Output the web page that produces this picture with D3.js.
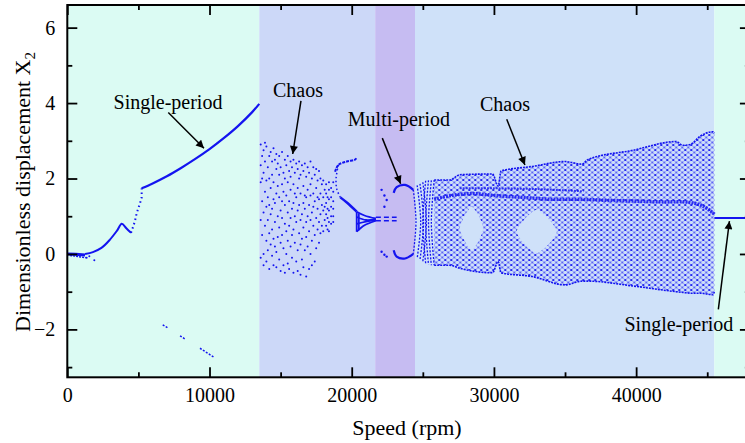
<!DOCTYPE html>
<html>
<head>
<meta charset="utf-8">
<script src="https://cdn.jsdelivr.net/npm/d3@7"></script>
<style>
    body { margin: 0; background: #fff; }
    text { font-family: "Liberation Serif", "Times New Roman", serif; }
</style>
</head>
<body>
<div id="chart"></div>
<script>
// ---- values: speed (rpm) vs dimensionless displacement X2 ----
const bandEdges = [0, 13500, 21650, 24450, 45500, 48000]
const bandKinds = ["single", "chaosA", "multi", "chaosB", "single"]

const xMajor = [0, 10000, 20000, 30000, 40000]
const xMinor = [5000, 15000, 25000, 35000, 45000]
const yMajor = [-2, 0, 2, 4, 6]
const yMinor = [-3, -1, 1, 3, 5]

// low speed branch
const nearZero = [[0, 0], [600, -0.01], [1250, -0.03]]
const nearZeroLow = [[200, -0.04], [800, -0.07], [1300, -0.1]]
const strayDots = [[1360, -0.1], [1550, -0.06], [1900, -0.17]]
const lowHump = [[1250, 0], [1800, 0.05], [2400, 0.16], [3000, 0.38], [3500, 0.62], [3830, 0.8], [4150, 0.68], [4480, 0.56]]
const jump = [[4480, 0.56], [4750, 0.86], [4880, 1.08], [5110, 1.34], [5230, 1.5], [5230, 1.74]]
const singleUpper = [[5230, 1.74], [6000, 1.87], [7000, 2.06], [8000, 2.28], [9000, 2.52], [10000, 2.78],
    [11000, 3.07], [12000, 3.39], [13000, 3.76], [13500, 3.98]]
const lowBranch = [[6710, -1.88], [7060, -1.96], null, [7930, -2.17], [8330, -2.27], null, [9330, -2.5], [10320, -2.74]]

// chaotic cloud, one column of hits per speed
const chaosSpeeds = [13600, 13700, 13800, 13900, 14000, 14100, 14200, 14300, 14400, 14500, 14600, 14700, 14800,
    14900, 15000, 15100, 15200, 15300, 15400, 15500, 15600, 15700, 15800, 15900, 16000, 16100, 16200, 16300,
    16400, 16500, 16600, 16700, 16800, 16900, 17000, 17100, 17200, 17300, 17400, 17500, 17600, 17700, 17800,
    17900, 18000, 18100, 18200, 18300, 18400, 18550, 18700]
const chaosValues = [
    [2.9, 1.9, 0.9, -0.1, 2.35], [2.6, 1.4, 0.5, 2.0], [2.75, 2.15, 1.1, 0.0, -0.3], [2.45, 1.65, 0.75, 2.95],
    [2.85, 1.25, 0.35, -0.2, 1.95], [2.3, 1.5, 0.9, 0.1], [2.6, 2.0, 0.55, -0.4, 1.3], [2.7, 1.75, 1.05, 0.25],
    [2.45, 1.2, 0.65, -0.05, 2.1], [2.8, 1.9, 1.45, 0.4, -0.3], [2.5, 1.35, 0.85, 0.2], [2.25, 1.6, 0.05, -0.35, 2.65],
    [2.4, 1.0, 0.45, 1.8], [2.6, 2.1, 1.5, 0.7, -0.15], [2.3, 1.15, 0.3, -0.45], [2.7, 1.85, 0.95, 0.5, 1.4],
    [2.15, 1.65, 0.15, -0.3], [2.5, 1.3, 0.8, -0.5, 2.0], [2.35, 1.55, 0.6, 0.0], [2.6, 1.9, 1.1, 0.35, -0.25],
    [2.2, 1.4, 0.75, -0.4], [2.45, 1.7, 0.95, 0.2, 2.05], [2.3, 1.2, 0.5, -0.1], [2.5, 1.85, 1.35, 0.65, -0.5],
    [2.15, 1.0, 0.3, 1.6], [2.4, 1.5, 0.85, -0.2], [2.25, 1.75, 1.15, 0.1, -0.45], [2.45, 1.3, 0.55, 2.0],
    [2.1, 1.6, 0.9, -0.55, 0.25], [2.35, 1.05, 0.4, -0.15], [2.2, 1.8, 1.35, 0.7, -0.35], [2.4, 1.2, 0.1, 1.55],
    [2.05, 1.5, 0.85, -0.6, 0.45], [2.3, 1.7, 1.0, 0.2], [2.15, 1.3, 0.6, -0.4], [2.45, 1.85, 0.9, 0.0, 1.55],
    [2.0, 1.1, 0.35, -0.3], [2.3, 1.6, 0.75, 1.25], [2.1, 1.4, 0.5, -0.2], [2.25, 1.75, 0.95, 0.15],
    [1.95, 1.2, 0.65, 1.5], [2.2, 1.45, 0.85, 0.3], [2.0, 1.6, 1.05, 0.55], [1.85, 1.3, 0.75],
    [1.95, 1.5, 1.15, 0.6], [1.7, 1.25, 0.9], [1.85, 1.6, 1.35, 1.05, 0.75], [1.5, 1.2, 0.95, 0.65],
    [1.9, 1.7, 1.45, 1.15, 0.85, 0.6], [1.75, 1.5, 1.25, 1.0, 0.8], [1.9, 1.65, 1.4, 1.2, 1.0, 0.85]
]

// period-doubling hook and "fish" around 19000-21700 rpm
const hookTop = [[18830, 2.18], [19060, 2.36], [19650, 2.45], [20230, 2.5], [20350, 2.55]]
const hookArc = [[19060, 2.36], [18900, 2.0], [18950, 1.72], [19200, 1.5]]
const hookTail = [[19200, 1.5], [19700, 1.35], [20350, 1.12]]
const fishLines = [
    [[20350, 1.12], [20900, 1.02], [21700, 0.94]],
    [[20350, 0.98], [21000, 0.9], [21700, 0.92]],
    [[20350, 0.8], [21000, 0.86], [21700, 0.9]],
    [[20350, 0.59], [20900, 0.76], [21700, 0.88]],
    [[20350, 0.59], [20350, 1.12]],
    [[20500, 0.63], [20500, 1.08]]
]
const fishTail = [[[21700, 0.97], [23160, 0.97]], [[21700, 0.88], [23160, 0.88]]]

// multi-period ring
const ringTop = [[22950, 1.62], [23160, 1.77], [23750, 1.83], [24330, 1.7]]
const ringBottom = [[22950, 0.1], [23160, -0.07], [23750, -0.12], [24330, 0.0]]
const ringDots = [[22100, 1.7], [22300, 1.55], [22460, 1.43], [22300, 1.25], [22100, 0.06], [22300, -0.02], [22460, -0.07]]
const ringArcs = [
    [[24330, 1.7], [24520, 0.85], [24330, 0.0]],
    [[24600, 1.82], [24850, 0.85], [24600, -0.12]],
    [[24800, 1.86], [25050, 0.85], [24800, -0.16]],
    [[25000, 1.9], [25250, 0.85], [25000, -0.2]],
    [[25200, 1.94], [25000, 0.85], [25200, -0.25]],
    [[25400, 1.95], [25200, 0.85], [25400, -0.28]],
    [[25600, 1.95], [25400, 0.85], [25600, -0.3]],
    [[25800, 1.96], [25600, 0.85], [25800, -0.3]]
]

// quasi-periodic mesh envelope 25800-45500 rpm
const meshSpeeds = [25800, 26900, 27600, 29900, 30300, 30500, 32700, 35000, 36200, 36600, 39800, 42800, 43300, 43800, 44500, 45400, 45500]
const meshTop = [1.96, 1.96, 2.1, 2.12, 1.8, 2.2, 2.32, 2.45, 2.38, 2.5, 2.75, 2.98, 2.88, 2.9, 3.12, 3.24, 3.2]
const meshBottom = [-0.3, -0.3, -0.38, -0.5, -0.2, -0.5, -0.6, -0.82, -0.72, -0.72, -0.85, -1.0, -1.02, -1.04, -1.04, -1.08, -1.0]
const holeA = [[27600, 0.68], [28440, 1.25], [29250, 0.68], [28440, 0.1]]
const holeB = [[31600, 0.59], [33000, 1.17], [34420, 0.59], [33000, 0.02]]
const bandMid = [[25800, 1.45], [27000, 1.55], [28500, 1.6], [30000, 1.55], [32000, 1.5], [34000, 1.45], [36000, 1.45],
    [38000, 1.42], [40000, 1.4], [42000, 1.38], [43500, 1.38], [44500, 1.3], [45200, 1.15], [45500, 1.05]]
const bandUpper = [[27600, 1.74], [30000, 1.74], [33000, 1.72], [36300, 1.66]]
const singleHigh = [[45500, 0.95], [48000, 0.95]]

// annotations: [label, text x, text y, arrow tail x, tail y, head x, head y] in data units
const notes = [
    ["Single-period", 7080, 3.84, 7100, 3.75, 9610, 2.8],
    ["Chaos", 16220, 4.16, 16430, 4.06, 15850, 2.65],
    ["Multi-period", 23320, 3.38, 22150, 3.07, 23440, 1.86],
    ["Chaos", 30780, 3.79, 30900, 3.57, 32180, 2.36],
    ["Single-period", 43010, -2.04, 45780, -1.47, 46560, 0.87]
]

// ---- drawing ----
const margin = {top: 5, right: 0, bottom: 66, left: 67.3}
const width = 682.6
const height = 372.3
const bandColors = {single: "#dbfbf3", chaosA: "#ccd8f8", multi: "#c6bcf2", chaosB: "#cfe1f9"}
const dotBlue = "#1414f0"

const svg = d3.select("#chart").append("svg")
    .attr("width", 745)
    .attr("height", 443)

const defs = svg.append("defs")
defs.append("clipPath").attr("id", "plotClip")
    .append("rect").attr("width", width).attr("height", height)
const pat = defs.append("pattern").attr("id", "mesh")
    .attr("patternUnits", "userSpaceOnUse").attr("width", 6).attr("height", 5)
pat.append("path")
    .attr("d", "M0,0 L6,5 M6,0 L0,5")
    .attr("stroke", dotBlue).attr("stroke-width", 1).attr("stroke-dasharray", "1.3 0.9")
    .attr("fill", "none")
defs.append("marker").attr("id", "head")
    .attr("viewBox", "0 0 10 10").attr("refX", 10).attr("refY", 5)
    .attr("markerWidth", 13).attr("markerHeight", 8).attr("markerUnits", "userSpaceOnUse")
    .attr("orient", "auto")
    .append("path").attr("d", "M0,0 L10,5 L0,10 z").attr("fill", "#000")

const g = svg.append("g").attr("transform", `translate(${margin.left},${margin.top})`)

const x = d3.scaleLinear().domain([0, 48000]).range([0, width])
const y = d3.scaleLinear().domain([-3.27, 6.6]).range([height, 0])

const plot = g.append("g").attr("clip-path", "url(#plotClip)")

// background regions
plot.selectAll("rect.band")
    .data(bandKinds)
    .join("rect")
    .attr("class", "band")
    .attr("x", (d, i) => x(bandEdges[i]))
    .attr("width", (d, i) => x(bandEdges[i + 1]) - x(bandEdges[i]))
    .attr("y", 0)
    .attr("height", height)
    .attr("fill", d => bandColors[d])

const line = d3.line().defined(d => d !== null).x(d => x(d[0])).y(d => y(d[1]))
const mono = d3.line().x(d => x(d[0])).y(d => y(d[1])).curve(d3.curveMonotoneX)
const smooth = d3.line().x(d => x(d[0])).y(d => y(d[1])).curve(d3.curveCatmullRom)

function path(data, gen, w, dash, op) {
    plot.append("path")
        .attr("d", gen(data))
        .attr("fill", "none")
        .attr("stroke", dotBlue)
        .attr("stroke-width", w)
        .attr("stroke-dasharray", dash || null)
        .attr("stroke-opacity", op || 1)
}

function dots(data, r) {
    plot.append("g").selectAll("circle")
        .data(data)
        .join("circle")
        .attr("cx", d => x(d[0]))
        .attr("cy", d => y(d[1]))
        .attr("r", r)
        .attr("fill", dotBlue)
}

// mesh region
const meshRows = meshSpeeds.map((s, i) => [s, meshTop[i], meshBottom[i]])
const meshArea = d3.area().x(d => x(d[0])).y0(d => y(d[2])).y1(d => y(d[1])).curve(d3.curveMonotoneX)
plot.append("path").attr("d", meshArea(meshRows)).attr("fill", "url(#mesh)")
const hole = d3.line().x(d => x(d[0])).y(d => y(d[1])).curve(d3.curveCardinalClosed.tension(0.3))
plot.selectAll("path.hole")
    .data([holeA, holeB])
    .join("path")
    .attr("class", "hole")
    .attr("d", hole)
    .attr("fill", bandColors.chaosB)
path(meshRows.map(d => [d[0], d[1]]), mono, 1.6, "2 1")
path(meshRows.map(d => [d[0], d[2]]), mono, 1.6, "2 1")
path(bandMid, smooth, 3.5, "2 1", 0.85)
path(bandUpper, smooth, 2, "2 1", 0.8)
path(singleHigh, line, 2)

// low speed branches
path(nearZero, line, 3)
path(nearZeroLow, line, 1.5, "2 1")
dots(strayDots, 1)
path(lowHump, smooth, 2)
path(jump, line, 2, "1.5 3")
path(singleUpper, smooth, 2.2)
path(lowBranch, line, 1.5, "2 1.5")

// chaos cloud
const chaosPts = chaosSpeeds.flatMap((s, i) => chaosValues[i].map(v => [s, v]))
dots(chaosPts, 1)

// hook, fish and ring
path(hookTop, smooth, 2, "3 1")
path(hookArc, smooth, 1.5, "1.5 2.5")
path(hookTail, smooth, 2.5)
fishLines.forEach(f => path(f, smooth, 1.8))
fishTail.forEach(f => path(f, line, 1.5, "5 3"))
path(ringTop, smooth, 2.2)
path(ringBottom, smooth, 2.2)
dots(ringDots, 1.2)
ringArcs.forEach(a => path(a, smooth, 1.3, "2 1.5"))

// axes
function styleAxis(sel) {
    sel.select(".domain").remove()
    sel.selectAll(".tick line").attr("stroke", "#000").attr("stroke-width", 1.8)
    sel.selectAll("text").attr("font-size", 20).attr("fill", "#000")
        .style("font-family", "'Liberation Serif', 'Times New Roman', serif")
}
g.append("g").attr("transform", `translate(0,${height})`)
    .call(d3.axisBottom(x).tickValues(xMajor).tickSize(-10).tickPadding(11).tickFormat(d3.format("d")))
    .call(styleAxis)
g.append("g").attr("transform", `translate(0,${height})`)
    .call(d3.axisBottom(x).tickValues(xMinor).tickSize(-5).tickFormat(""))
    .call(styleAxis)
g.append("g")
    .call(d3.axisTop(x).tickValues(xMajor).tickSize(-10).tickFormat(""))
    .call(styleAxis)
g.append("g")
    .call(d3.axisTop(x).tickValues(xMinor).tickSize(-5).tickFormat(""))
    .call(styleAxis)
g.append("g")
    .call(d3.axisLeft(y).tickValues(yMajor).tickSize(-10).tickPadding(12))
    .call(styleAxis)
g.append("g")
    .call(d3.axisLeft(y).tickValues(yMinor).tickSize(-5).tickFormat(""))
    .call(styleAxis)
g.append("g").attr("transform", `translate(${width},0)`)
    .call(d3.axisRight(y).tickValues(yMajor).tickSize(-10).tickFormat(""))
    .call(styleAxis)
g.append("g").attr("transform", `translate(${width},0)`)
    .call(d3.axisRight(y).tickValues(yMinor).tickSize(-5).tickFormat(""))
    .call(styleAxis)

g.append("rect")
    .attr("width", width).attr("height", height)
    .attr("fill", "none").attr("stroke", "#000").attr("stroke-width", 2)

// annotations
const ann = g.append("g")
ann.selectAll("line")
    .data(notes)
    .join("line")
    .attr("x1", d => x(d[3])).attr("y1", d => y(d[4]))
    .attr("x2", d => x(d[5])).attr("y2", d => y(d[6]))
    .attr("stroke", "#000").attr("stroke-width", 1.5)
    .attr("marker-end", "url(#head)")
ann.selectAll("text")
    .data(notes)
    .join("text")
    .attr("x", d => x(d[1])).attr("y", d => y(d[2]))
    .attr("text-anchor", "middle")
    .attr("font-size", 20)
    .text(d => d[0])

// axis titles
g.append("text")
    .attr("x", 407 - margin.left)
    .attr("y", height + 58)
    .attr("text-anchor", "middle")
    .attr("font-size", 22)
    .text("Speed (rpm)")
const yl = g.append("text")
    .attr("transform", `translate(${30 - margin.left},${192 - margin.top}) rotate(-90)`)
    .attr("text-anchor", "middle")
    .attr("font-size", 22)
yl.append("tspan").text("Dimensionless displacement X")
yl.append("tspan").attr("font-size", 15).attr("dy", 5).text("2")
</script>
</body>
</html>
